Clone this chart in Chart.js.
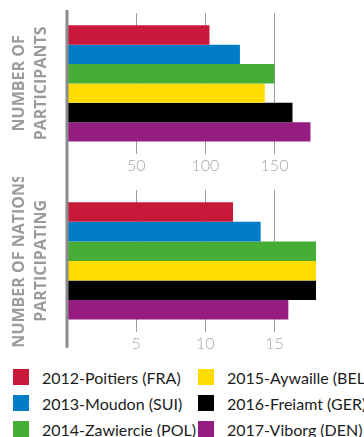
<!DOCTYPE html>
<html>
<head>
<meta charset="utf-8">
<script src="https://cdn.jsdelivr.net/npm/chart.js@4/dist/chart.umd.min.js"></script>
<style>
  html, body { margin: 0; padding: 0; background: #fff; }
  body { width: 364px; height: 437px; overflow: hidden; font-family: Lato, sans-serif; }
  .box1 { position: relative; width: 364px; height: 177px; }
  .box2 { position: relative; width: 364px; height: 178px; }
  #legend {
    display: grid;
    grid-template-columns: 185px 185px;
    row-gap: 10px;
    margin-top: 14px;
    padding-left: 13px;
    white-space: nowrap;
  }
  .item { display: flex; align-items: center; height: 16px; font-size: 16px; color: #1c1c1c; }
  .swatch { width: 16px; height: 16px; margin-right: 13px; flex: none; }
</style>
</head>
<body>
<div class="box1"><canvas id="participants"></canvas></div>
<div class="box2"><canvas id="nations"></canvas></div>
<div id="legend"></div>

<script>
// editions, one bar per year in each chart
const editions = ['2012-Poitiers (FRA)', '2013-Moudon (SUI)', '2014-Zawiercie (POL)',
                  '2015-Aywaille (BEL)', '2016-Freiamt (GER)', '2017-Viborg (DEN)'];
const colors = ['#c8193a', '#007dc6', '#46ae35', '#ffdd00', '#000000', '#951c80'];

const participants = [103, 125, 150, 143, 163, 176];
const nations = [12, 14, 18, 18, 18, 16];

const participantTicks = [50, 100, 150];
const nationTicks = [5, 10, 15];

const grey = '#9b9b9b';

// thick grey line at the value axis zero, running past the chart area
const zeroLine = {
  id: 'zeroLine',
  afterDatasetsDraw(chart, args, opts) {
    const {ctx, chartArea, scales} = chart;
    const x = scales.x.getPixelForValue(0);
    const y1 = opts.toTop ? 0 : chartArea.top - 3;
    const y2 = opts.toBottom ? chart.height : chartArea.bottom + opts.below;
    ctx.save();
    ctx.strokeStyle = '#8c8c8c';
    ctx.lineWidth = 3;
    ctx.beginPath();
    ctx.moveTo(x, y1);
    ctx.lineTo(x, y2);
    ctx.stroke();
    ctx.restore();
  }
};

function makeChart(id, values, max, tickValues, title, lineOpts) {
  return new Chart(document.getElementById(id), {
    type: 'bar',
    data: {
      labels: [''],
      datasets: editions.map((name, i) => ({
        label: name,
        data: [values[i]],
        backgroundColor: colors[i],
        borderWidth: 0,
        barPercentage: 1,
        categoryPercentage: 0.826
      }))
    },
    options: {
      indexAxis: 'y',
      responsive: true,
      maintainAspectRatio: false,
      animation: false,
      layout: { padding: { top: 13, left: 8, right: 48, bottom: 0 } },
      plugins: {
        legend: { display: false },
        tooltip: { enabled: false },
        zeroLine: lineOpts
      },
      scales: {
        x: {
          min: 0,
          max: max,
          afterBuildTicks: scale => { scale.ticks = tickValues.map(v => ({ value: v })); },
          grid: { color: grey, lineWidth: 1, drawTicks: false },
          border: { display: false },
          ticks: { color: '#a5a5a5', padding: 2, font: { family: 'Lato', size: 16, weight: 300 } }
        },
        y: {
          grid: { display: false },
          border: { display: false },
          ticks: { display: false },
          title: {
            display: true,
            text: title,
            color: grey,
            padding: { top: 0, bottom: 7 },
            font: { family: 'Open Sans', size: 16, weight: 'bold', lineHeight: 1.375 }
          }
        }
      }
    },
    plugins: [zeroLine]
  });
}

makeChart('participants', participants, 180, participantTicks,
  ['NUMBER OF', 'PARTICIPANTS'], { toTop: false, toBottom: true, below: 0 });
makeChart('nations', nations, 18, nationTicks,
  ['NUMBER OF NATIONS', 'PARTICIPATING'], { toTop: true, toBottom: false, below: 16 });

// legend in two columns, filled top to bottom
const legend = document.getElementById('legend');
const rows = Math.ceil(editions.length / 2);
for (let r = 0; r < rows; r++) {
  for (let c = 0; c < 2; c++) {
    const i = c * rows + r;
    if (i >= editions.length) continue;
    const item = document.createElement('div');
    item.className = 'item';
    item.innerHTML = '<span class="swatch" style="background:' + colors[i] + '"></span>' + editions[i];
    legend.appendChild(item);
  }
}
</script>
</body>
</html>
